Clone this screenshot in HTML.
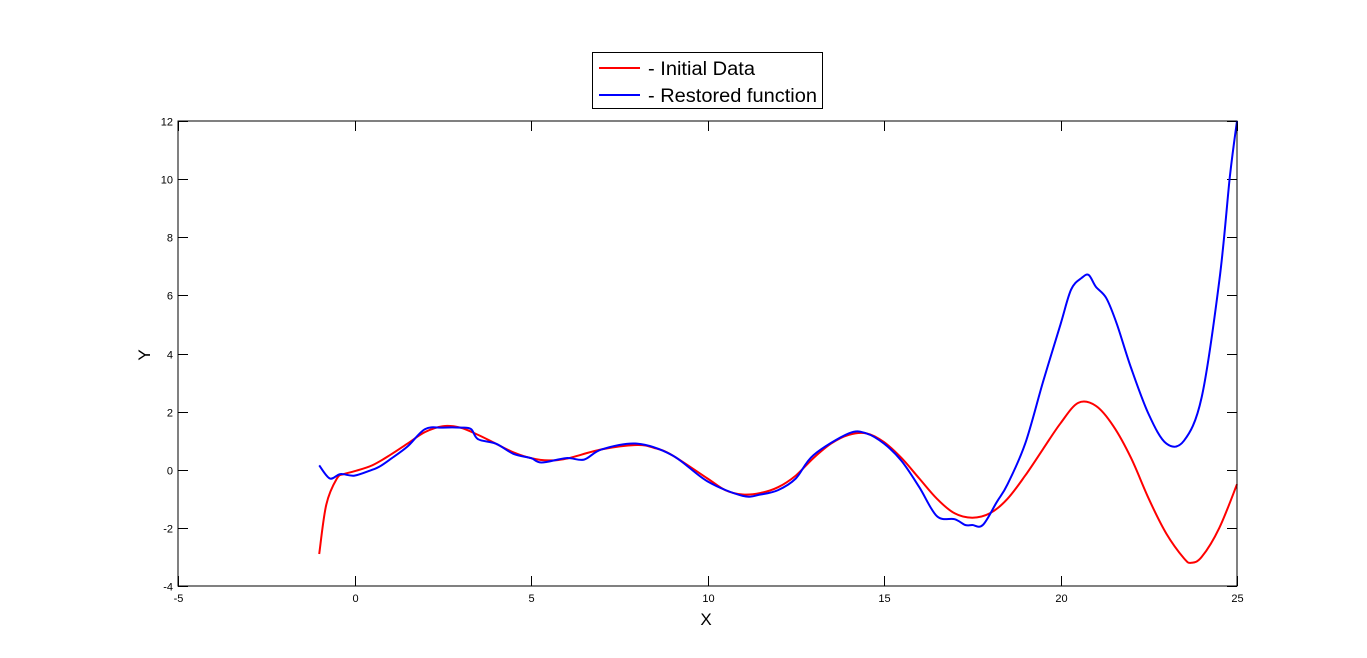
<!DOCTYPE html>
<html><head><meta charset="utf-8"><style>
html,body{margin:0;padding:0;background:#fff;}
svg{display:block;font-family:"Liberation Sans",Arial,sans-serif;}
</style></head><body>
<svg id="s" width="1367" height="658" viewBox="0 0 1367 658">
<rect x="0" y="0" width="1367" height="658" fill="#fff"/>
<g id="ticks" stroke="#000" stroke-width="1"></g>
<g id="lbl" font-size="11" fill="#000"></g>
<path id="red" fill="none" stroke="#f00" stroke-width="2" stroke-linejoin="round"/>
<path id="blue" fill="none" stroke="#00f" stroke-width="2" stroke-linejoin="round"/>
<rect x="178" y="121" width="1059" height="465" fill="none" stroke="#000" stroke-width="1"/>
<text x="706" y="625" font-size="17" text-anchor="middle">X</text>
<text x="150" y="355" font-size="17" text-anchor="middle" transform="rotate(-90 150 355)">Y</text>
<rect x="592.5" y="52.5" width="230" height="56" fill="#fff" stroke="#000"/>
<line x1="599" y1="68" x2="640" y2="68" stroke="#f00" stroke-width="2"/>
<line x1="599" y1="95" x2="640" y2="95" stroke="#00f" stroke-width="2"/>
<text x="648" y="75" font-size="19" textLength="107" lengthAdjust="spacingAndGlyphs">- Initial Data</text>
<text x="648" y="102" font-size="19" textLength="169" lengthAdjust="spacingAndGlyphs">- Restored function</text>
</svg>
<script>
var L=178,R=1237,T=121,B=586;
function px(x){return L+(x+5)/30*(R-L);}
function py(y){return B-(y+4)/16*(B-T);}
var tk=document.getElementById('ticks'),lb=document.getElementById('lbl'),ns='http://www.w3.org/2000/svg';
function ln(a,b,c,d){var e=document.createElementNS(ns,'line');e.setAttribute('x1',a);e.setAttribute('y1',b);e.setAttribute('x2',c);e.setAttribute('y2',d);tk.appendChild(e);}
function tx(x,y,s,a){var e=document.createElementNS(ns,'text');e.setAttribute('x',x);e.setAttribute('y',y);e.setAttribute('text-anchor',a);e.textContent=s;lb.appendChild(e);}
for(var x=-5;x<=25;x+=5){var X=Math.round(px(x))+.5;ln(X,B,X,B-10);ln(X,T,X,T+10);tx(X,B+16,x,'middle');}
for(var y=-4;y<=12;y+=2){var Y=Math.round(py(y))+.5;ln(L,Y,L+10,Y);ln(R,Y,R-10,Y);tx(L-5,Y+4,y,'end');}
var red=[[-1,-2.9],[-0.8,-1.2],[-0.5,-0.3],[-0.3,-0.15],[0,-0.05],[0.5,0.15],[1,0.5],[1.5,0.9],[2,1.3],[2.5,1.5],[3,1.45],[3.5,1.2],[4,0.9],[4.5,0.6],[5,0.4],[5.5,0.32],[6,0.38],[7,0.7],[8,0.85],[8.5,0.75],[9,0.5],[10,-0.3],[10.5,-0.7],[11,-0.85],[11.5,-0.8],[12,-0.6],[12.5,-0.2],[13,0.4],[13.5,0.9],[14,1.2],[14.5,1.25],[15,0.95],[15.5,0.4],[16,-0.3],[16.5,-1.0],[17,-1.5],[17.5,-1.65],[18,-1.5],[18.5,-1.0],[19,-0.2],[19.5,0.7],[20,1.6],[20.5,2.3],[21,2.2],[21.5,1.5],[22,0.4],[22.5,-1],[23,-2.2],[23.5,-3.05],[23.7,-3.2],[24,-3.0],[24.5,-2.0],[25,-0.5]];
var blue=[[-1,0.15],[-0.7,-0.3],[-0.4,-0.15],[0,-0.2],[0.5,0.0],[0.7,0.1],[1,0.35],[1.5,0.8],[2,1.4],[2.5,1.45],[3,1.45],[3.3,1.4],[3.5,1.05],[4,0.9],[4.5,0.55],[5,0.4],[5.3,0.25],[6,0.4],[6.5,0.35],[7,0.7],[8,0.9],[9,0.5],[10,-0.4],[11,-0.9],[11.5,-0.85],[12,-0.7],[12.5,-0.3],[13,0.5],[14,1.25],[14.5,1.25],[15,0.9],[15.5,0.3],[16,-0.6],[16.5,-1.6],[17,-1.7],[17.3,-1.9],[17.5,-1.9],[17.8,-1.9],[18.2,-1.1],[18.5,-0.5],[19,0.9],[19.5,3.0],[20,5.0],[20.3,6.2],[20.6,6.6],[20.8,6.7],[21,6.3],[21.3,5.9],[21.6,5.0],[22,3.5],[22.5,1.9],[23,0.9],[23.5,1.0],[24,2.5],[24.5,6.5],[24.8,10.1],[25,12]];
function path(p){var q=p.map(function(a){return [px(a[0]),py(a[1])];});var d='M'+q[0][0].toFixed(1)+' '+q[0][1].toFixed(1);
for(var i=0;i<q.length-1;i++){var p0=q[Math.max(0,i-1)],p1=q[i],p2=q[i+1],p3=q[Math.min(q.length-1,i+2)];
var c1=[p1[0]+(p2[0]-p0[0])/6,p1[1]+(p2[1]-p0[1])/6],c2=[p2[0]-(p3[0]-p1[0])/6,p2[1]-(p3[1]-p1[1])/6];
d+='C'+c1[0].toFixed(1)+' '+c1[1].toFixed(1)+' '+c2[0].toFixed(1)+' '+c2[1].toFixed(1)+' '+p2[0].toFixed(1)+' '+p2[1].toFixed(1);}return d;}
document.getElementById('red').setAttribute('d',path(red));
document.getElementById('blue').setAttribute('d',path(blue));
</script>
</body></html>
